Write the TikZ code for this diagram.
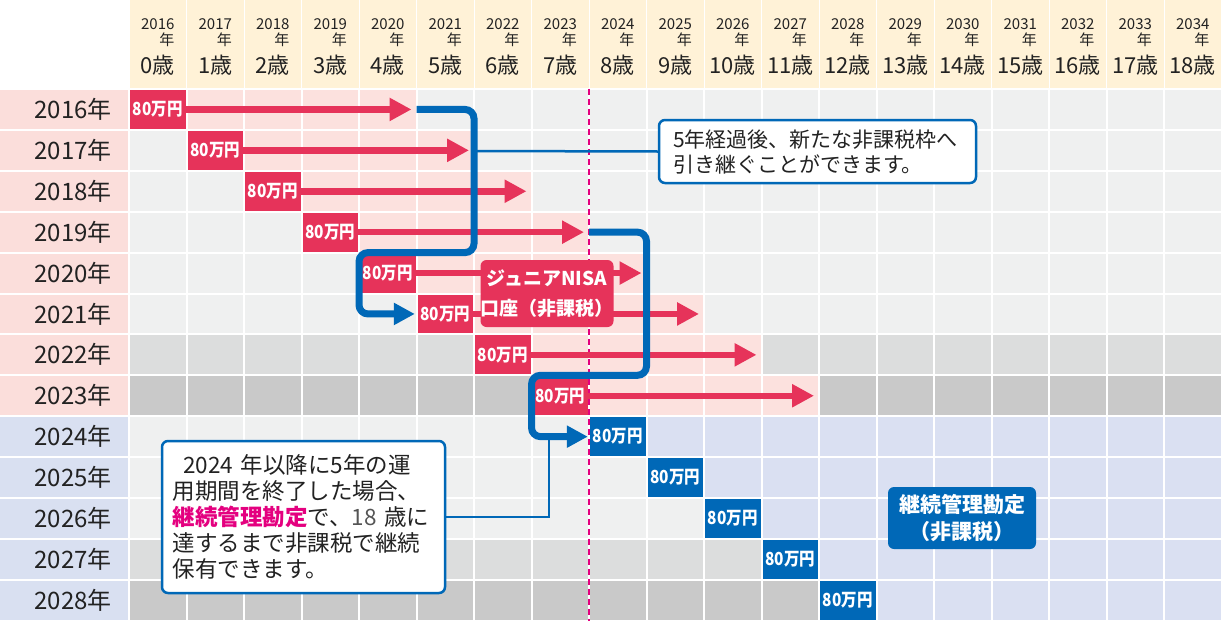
\documentclass[tikz,border=0pt]{standalone}
\usepackage{fontspec}
\setmainfont{Noto Sans CJK JP}
\usetikzlibrary{arrows.meta}
\definecolor{hdr}{HTML}{FFF2D7}
\definecolor{pk}{HTML}{FCE1DE}
\definecolor{pklab}{HTML}{FBDEDB}
\definecolor{bl}{HTML}{DAE0F2}
\definecolor{bllab}{HTML}{D9E0F1}
\definecolor{g1}{HTML}{EFF0F0}
\definecolor{g2}{HTML}{DCDDDD}
\definecolor{g3}{HTML}{C9C9C9}
\definecolor{nred}{HTML}{E6335A}
\definecolor{nblue}{HTML}{0068B7}
\definecolor{nmag}{HTML}{E4007F}
\definecolor{ntext}{HTML}{222222}
\definecolor{ngray}{HTML}{555555}
\newcommand\manyen{\scalebox{0.86}[1]{80万円}}
\begin{document}
\begin{tikzpicture}[x=1pt,y=-1pt,
  redbox/.style={fill=nred,text=white,font=\bfseries\fontsize{18}{18}\selectfont,minimum width=55.5pt,minimum height=38.9pt,inner sep=0pt},
  bluebox/.style={redbox,fill=nblue},
  redarrow/.style={draw=nred,line width=6.5pt,-{Triangle[length=22pt,width=22pt]}},
  blueconn/.style={draw=nblue,line width=7pt,rounded corners=9pt,-{Triangle[length=21pt,width=21pt]}},
  leader/.style={draw=nblue,line width=2.5pt},
  callout/.style={draw=nblue,line width=2.5pt,fill=white,rounded corners=6pt,align=left,text=ntext},
  tag/.style={rounded corners=6pt,text=white,align=center,inner sep=0pt},
  hdrsmall/.style={font=\fontsize{15}{15}\selectfont,inner sep=0pt,text=ntext},
  hdrage/.style={font=\fontsize{22}{22}\selectfont,inner sep=0pt,text=ntext},
  rowlab/.style={font=\fontsize{24}{24}\selectfont,inner sep=0pt,text=ntext,anchor=base east}
]
\useasboundingbox (0,0) rectangle (1222,621);
\fill[white] (0,0) rectangle (1222,621);
% header
\foreach \i in {0,...,18}{
  \fill[hdr] ({129+57.5*\i+0.5},0) rectangle ({129+57.5*\i+57},88);
  \pgfmathtruncatemacro\yr{2016+\i}
  \node[hdrsmall,anchor=base] (hy\i) at ({129+57.5*\i+28.75},29) {\yr};
  \node[hdrsmall,anchor=base east] (hn\i) at ([yshift=-16pt]hy\i.base east) {年};
  \node[hdrage,anchor=base] (ha\i) at ({129+57.5*\i+28.75},73) {\i{}歳};
}
% row labels
\foreach \j in {0,...,12}{
  \ifnum\j<8 \def\lc{pklab}\else\def\lc{bllab}\fi
  \fill[\lc] (0,{89+40.9*\j+1}) rectangle (128,{89+40.9*\j+39.9});
  \pgfmathtruncatemacro\yr{2016+\j}
  \node[rowlab] (rl\j) at (112,{89+40.9*\j+29.5}) {\yr{}年};
}
% cells
\foreach \j in {0,...,12}{
  \foreach \i in {0,...,18}{
    \def\cc{g1}%
    \ifnum\j=6 \def\cc{g2}\fi
    \ifnum\j=7 \def\cc{g3}\fi
    \ifnum\j=11 \def\cc{g2}\fi
    \ifnum\j=12 \def\cc{g3}\fi
    \ifnum\j<8
      \ifnum\i<\j\else\ifnum\i>\numexpr\j+4\relax\else\def\cc{pk}\fi\fi
    \else
      \ifnum\i<\j\else\def\cc{bl}\fi
    \fi
    \fill[\cc] ({129+57.5*\i+1},{89+40.9*\j+1}) rectangle ({129+57.5*\i+56.5},{89+40.9*\j+39.9});
  }
}
% dashed 2024 line
\coordinate (dtop) at (589,89);
\coordinate (dbot) at (589,621);
\draw[nmag,line width=2pt,dash pattern=on 6pt off 4pt] (dtop) -- (dbot);
% red boxes and arrows
\foreach \j in {0,...,7}{
  \node[redbox] (r\j) at ({129+57.5*\j+28.75},{89+40.9*\j+20.45}) {\manyen};
  \coordinate (e\j) at ({129+57.5*(\j+5)-5},{89+40.9*\j+20.45});
  \draw[redarrow] (r\j.east) -- (e\j);
}
% blue boxes
\foreach \j in {8,...,12}{
  \node[bluebox] (b\j) at ({129+57.5*\j+28.75},{89+40.9*\j+20.45}) {\manyen};
}
% leaders
\coordinate (j1) at (474,151);
\coordinate (j2) at (549,436.65);
\node[callout,font=\fontsize{21}{25}\selectfont,text width=289pt,inner xsep=14pt,minimum height=63pt] (c1) at (817.5,151.5) {5年経過後、新たな非課税枠へ\\引き継ぐことができます。};
\draw[leader] (j1) -- (c1.west);
% blue connectors
\coordinate (s0) at (416.5,109.45);
\draw[blueconn] (s0) -- (474,109.45) -- (474,252.6) -- (359,252.6) -- (359,313.95) -- ([xshift=-2.5pt]r5.west);
\coordinate (s3) at (589,232.15);
\draw[blueconn] (s3) -- (646.5,232.15) -- (646.5,375.3) -- (531.5,375.3) -- (531.5,436.65) -- ([xshift=-2pt]b8.west);
% tags
\node[tag,fill=nred,font=\bfseries\fontsize{19}{30}\selectfont,minimum width=130pt,minimum height=67pt] (t1) at (547,293.5) {ジュニアNISA\\口座（非課税）};
\node[tag,fill=nblue,font=\bfseries\fontsize{21}{27}\selectfont,minimum width=148pt,minimum height=62pt] (t2) at (962,518) {継続管理勘定\\（非課税）};
% callout 2
\node[callout,font=\fontsize{22.5}{26}\selectfont,text width=262pt,inner xsep=10.5pt,minimum height=152pt] (c2) at (303.5,517) {\hspace*{11pt}2024~年以降に5年の運\\用期間を終了した場合、\\{\color{nmag}\bfseries 継続管理勘定}で、{\color{ngray}18}~歳に\\達するまで非課税で継続\\保有できます。};
\draw[leader] (c2.east) -| (j2);
\end{tikzpicture}
\end{document}
